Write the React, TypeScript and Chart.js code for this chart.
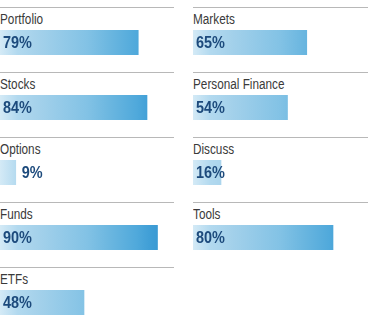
import React, { useEffect, useRef } from "react";
import { Chart, registerables } from "chart.js";

Chart.register(...registerables);

const leftCategories = ["Portfolio", "Stocks", "Options", "Funds", "ETFs"];
const leftValues = [79, 84, 9, 90, 48];
const rightCategories = ["Markets", "Personal Finance", "Discuss", "Tools"];
const rightValues = [65, 54, 16, 80];

const FONT = '"Liberation Sans", Arial, sans-serif';
const LABEL_SCALE = 0.84;
const PCT_SCALE = 0.85;

const COL_X = [0, 193];
const ROW_Y0 = 7;
const ROW_PITCH = 65;
const BAR_W = 175;
const BAR_H = 25;

const gradientStops: [number, string][] = [
  [0, "#d4eaf6"],
  [0.1, "#b2d9ef"],
  [0.2, "#a6d2eb"],
  [0.5, "#82c2e5"],
  [0.62, "#6cb7e0"],
  [0.78, "#50a9db"],
  [0.86, "#3f9ed6"],
  [0.92, "#3898d2"],
  [1, "#3595d0"],
];

const pctLabelPlugin = {
  id: "pctLabel",
  afterDatasetsDraw(chart: any) {
    const meta = chart.getDatasetMeta(0);
    const el = meta.data[0];
    if (!el) return;
    const v = chart.data.datasets[0].data[0];
    const c = chart.ctx;
    const text = v + "%";
    c.save();
    c.font = `bold 17px ${FONT}`;
    c.fillStyle = "#1c4a7c";
    c.textBaseline = "middle";
    c.textAlign = "left";
    const w = c.measureText(text).width * PCT_SCALE;
    const base = el.base;
    const end = el.x;
    const x = end - base >= w * 0.9 ? base + 3 : end + 6;
    c.translate(x, el.y + 1);
    c.scale(PCT_SCALE, 1);
    c.fillText(text, 0, 0);
    c.restore();
  },
};

function BarCell({ label, value, col, row }: { label: string; value: number; col: number; row: number }) {
  const ref = useRef<HTMLCanvasElement>(null);
  useEffect(() => {
    if (!ref.current) return;
    const chart = new Chart(ref.current, {
      type: "bar",
      data: {
        labels: [label],
        datasets: [
          {
            data: [value],
            backgroundColor: (ctx: any) => {
              const { chart } = ctx;
              const area = chart.chartArea;
              if (!area) return "#82c2e5";
              const g = chart.ctx.createLinearGradient(area.left, 0, area.right, 0);
              gradientStops.forEach(([p, col]) => g.addColorStop(p, col));
              return g;
            },
            borderWidth: 0,
            barPercentage: 1,
            categoryPercentage: 1,
          },
        ],
      },
      options: {
        indexAxis: "y",
        responsive: false,
        animation: false,
        layout: { padding: 0 },
        scales: {
          x: { min: 0, max: 100, display: false },
          y: { display: false },
        },
        plugins: {
          legend: { display: false },
          tooltip: { enabled: false },
        },
      },
      plugins: [pctLabelPlugin],
    } as any);
    return () => chart.destroy();
  }, [label, value]);

  const left = COL_X[col];
  const top = ROW_Y0 + row * ROW_PITCH;
  const lineW = col === 0 ? 174 : 368 - 193;
  return (
    <div style={{ position: "absolute", left, top, width: lineW, height: 55 }}>
      <div style={{ position: "absolute", left: 0, top: 0, width: lineW, height: 1, background: "#b8b8b8" }} />
      <div
        style={{
          position: "absolute",
          left: 0,
          top: 4,
          fontFamily: FONT,
          fontSize: 14,
          lineHeight: "16px",
          color: "#3a3a3a",
          whiteSpace: "nowrap",
          transform: `scaleX(${LABEL_SCALE})`,
          transformOrigin: "0 0",
        }}
      >
        {label}
      </div>
      <canvas
        ref={ref}
        width={BAR_W}
        height={BAR_H}
        style={{ position: "absolute", left: 0, top: 23, width: BAR_W, height: BAR_H }}
      />
    </div>
  );
}

export default function App() {
  return (
    <div style={{ position: "relative", width: 368, height: 329, background: "#ffffff", overflow: "hidden" }}>
      <style>{"body{margin:0;}"}</style>
      {leftCategories.map((c, i) => (
        <BarCell key={"l" + c} label={c} value={leftValues[i]} col={0} row={i} />
      ))}
      {rightCategories.map((c, i) => (
        <BarCell key={"r" + c} label={c} value={rightValues[i]} col={1} row={i} />
      ))}
    </div>
  );
}
